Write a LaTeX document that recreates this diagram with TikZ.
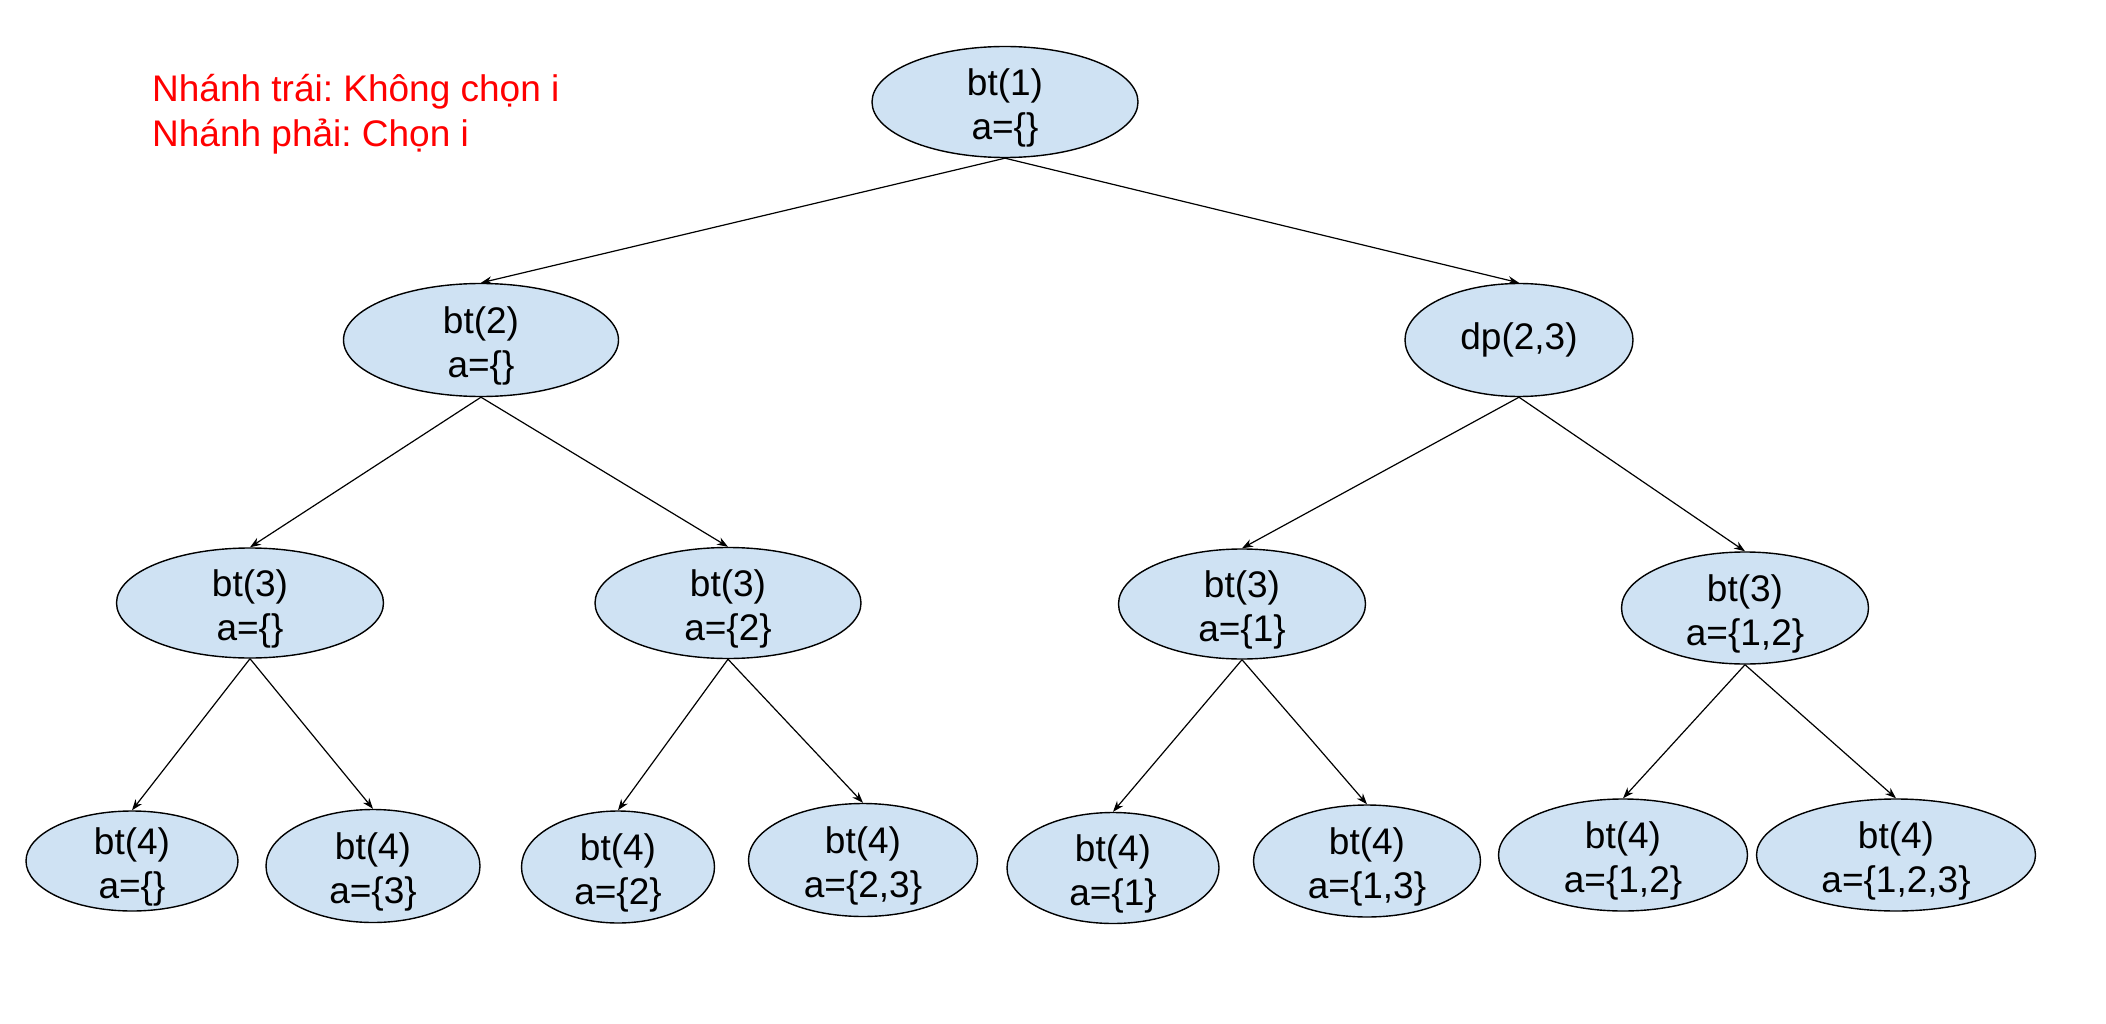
\documentclass[tikz,border=0pt]{standalone}
\usepackage{fontspec}
\setmainfont{Liberation Sans}
\frenchspacing
\usetikzlibrary{shapes.geometric,arrows.meta}
\definecolor{nodefill}{HTML}{CFE2F3}
\definecolor{notered}{RGB}{255,0,0}
\newcommand\twolines[2]{\vbox to 0pt{\vss\hbox{\begin{tabular}{@{}c@{}}#1\\#2\end{tabular}}\vss\kern-13pt}}
\begin{document}
\begin{tikzpicture}[x=1pt,y=-1pt,
  ell/.style={ellipse,draw=black,line width=1.4pt,fill=nodefill,inner sep=0pt,
    font=\fontsize{37}{44}\selectfont},
  edge/.style={line width=1.2pt,-{Stealth[length=11pt,width=8pt]}}]
\useasboundingbox (0,0) rectangle (2106,1024);
\fill[white] (0,0) rectangle (2106,1024);

\node[anchor=north west,inner sep=0pt,align=left,text=notered,
  font=\fontsize{37}{45}\selectfont] (note) at (152,74)
  {Nhánh trái: Không chọn i\\Nhánh phải: Chọn i};

\node[ell,minimum width=266pt,minimum height=111pt] (r) at (1005,102) {\twolines{bt(1)}{a=\{\}}};

\node[ell,minimum width=275pt,minimum height=113pt] (b2) at (481,340) {\twolines{bt(2)}{a=\{\}}};
\node[ell,minimum width=228pt,minimum height=113pt] (d23) at (1519,340) {dp(2,3)};

\node[ell,minimum width=267pt,minimum height=110pt] (c1) at (250,603) {\twolines{bt(3)}{a=\{\}}};
\node[ell,minimum width=266pt,minimum height=111pt] (c2) at (728,603) {\twolines{bt(3)}{a=\{2\}}};
\node[ell,minimum width=247pt,minimum height=110pt] (c3) at (1242,604) {\twolines{bt(3)}{a=\{1\}}};
\node[ell,minimum width=247pt,minimum height=112pt] (c4) at (1745,608) {\twolines{bt(3)}{a=\{1,2\}}};

\node[ell,minimum width=212pt,minimum height=100pt] (l1) at (132,861) {\twolines{bt(4)}{a=\{\}}};
\node[ell,minimum width=214pt,minimum height=113pt] (l2) at (373,866) {\twolines{bt(4)}{a=\{3\}}};
\node[ell,minimum width=193pt,minimum height=112pt] (l3) at (618,867) {\twolines{bt(4)}{a=\{2\}}};
\node[ell,minimum width=229pt,minimum height=113pt] (l4) at (863,860) {\twolines{bt(4)}{a=\{2,3\}}};
\node[ell,minimum width=212pt,minimum height=111pt] (l5) at (1113,868) {\twolines{bt(4)}{a=\{1\}}};
\node[ell,minimum width=227pt,minimum height=112pt] (l6) at (1367,861) {\twolines{bt(4)}{a=\{1,3\}}};
\node[ell,minimum width=249pt,minimum height=112pt] (l7) at (1623,855) {\twolines{bt(4)}{a=\{1,2\}}};
\node[ell,minimum width=279pt,minimum height=112pt] (l8) at (1896,855) {\twolines{bt(4)}{a=\{1,2,3\}}};

\draw[edge] (r.south) -- (b2.north);
\draw[edge] (r.south) -- (d23.north);
\draw[edge] (b2.south) -- (c1.north);
\draw[edge] (b2.south) -- (c2.north);
\draw[edge] (d23.south) -- (c3.north);
\draw[edge] (d23.south) -- (c4.north);
\draw[edge] (c1.south) -- (l1.north);
\draw[edge] (c1.south) -- (l2.north);
\draw[edge] (c2.south) -- (l3.north);
\draw[edge] (c2.south) -- (l4.north);
\draw[edge] (c3.south) -- (l5.north);
\draw[edge] (c3.south) -- (l6.north);
\draw[edge] (c4.south) -- (l7.north);
\draw[edge] (c4.south) -- (l8.north);
\end{tikzpicture}
\end{document}
